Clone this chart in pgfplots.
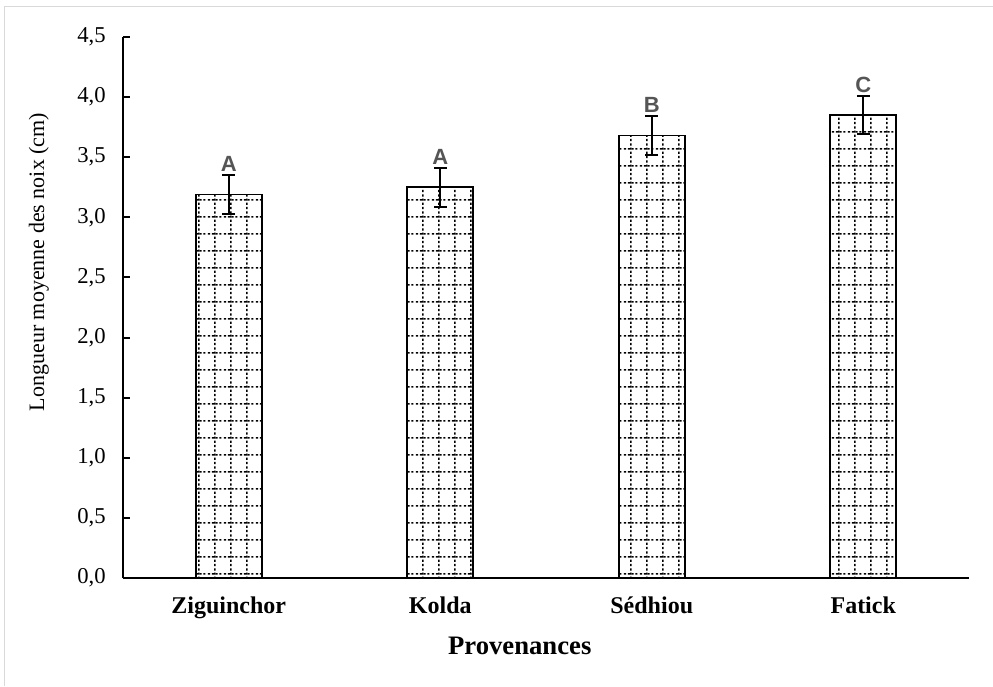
\documentclass[border=0pt]{standalone}
\usepackage{pgfplots}
\pgfplotsset{compat=1.18}
\usepackage{pgfplotstable}
\usepackage{fontspec}
\setmainfont{Liberation Serif}
\newfontfamily\lsans{Liberation Sans}
\usetikzlibrary{patterns}

\definecolor{framegray}{RGB}{217,217,217}
\definecolor{lettergray}{RGB}{85,85,85}

% dotted grid used to fill the bars
\pgfdeclarepatternformonly{dotgrid}{\pgfpointorigin}{\pgfpoint{12pt}{12.94pt}}{\pgfpoint{12pt}{12.94pt}}{%
  \pgfsetlinewidth{1.3pt}%
  \pgfsetdash{{1.6pt}{1.4pt}}{0pt}%
  \pgfpathmoveto{\pgfpoint{0pt}{7.1pt}}%
  \pgfpathlineto{\pgfpoint{12pt}{7.1pt}}%
  \pgfusepath{stroke}%
  \pgfsetdash{{1.7pt}{1.535pt}}{0pt}%
  \pgfpathmoveto{\pgfpoint{5.5pt}{0pt}}%
  \pgfpathlineto{\pgfpoint{5.5pt}{12.94pt}}%
  \pgfusepath{stroke}%
}

% mean nut length, standard error and group letter per origin
\pgfplotstableread{
x m e lab
0 3.19 0.16 A
1 3.25 0.16 A
2 3.68 0.16 B
3 3.85 0.16 C
}\noixdata

\begin{document}
\begin{tikzpicture}
\path[use as bounding box] (0,0) rectangle (744.75pt,514.5pt);
\draw[framegray, line width=0.75pt] (3pt,0) -- (3pt,509.25pt) -- (744.75pt,509.25pt);
\begin{axis}[
  at={(92.25pt,81pt)}, anchor=south west,
  scale only axis, width=634.5pt, height=405.75pt,
  xmin=-0.5, xmax=3.5, ymin=0, ymax=4.5,
  clip=false,
  axis lines*=left,
  axis line style={line width=1.5pt, black},
  xtick={0,1,2,3},
  xticklabels={Ziguinchor,Kolda,Sédhiou,Fatick},
  xtick style={draw=none},
  xticklabel style={anchor=base, yshift=-27pt, font=\bfseries\fontsize{18}{21}\selectfont},
  ytick={0,0.5,1,1.5,2,2.5,3,3.5,4,4.5},
  tick align=inside,
  major tick length=5pt,
  ytick style={line width=1.5pt, black},
  yticklabel style={/pgf/number format/.cd, fixed, fixed zerofill, precision=1, use comma, assume math mode=true,
    /tikz/.cd, xshift=-9.5pt, font=\fontsize{17}{20}\selectfont},
  xlabel={Provenances},
  xlabel style={at={(axis description cs:0.469,-0.142)}, anchor=base, font=\bfseries\fontsize{20}{24}\selectfont},
  ylabel={Longueur moyenne des noix (cm)},
  ylabel style={at={(axis description cs:-0.0993,0.584)}, anchor=center, font=\fontsize{16.5}{20}\selectfont},
]
\addplot[ybar, bar width=49.5pt, draw=black, line width=1.25pt, pattern=dotgrid, pattern color=black,
  error bars/.cd, y dir=both, y explicit,
  error mark=-,
  error bar style={line width=1.5pt, black},
  error mark options={rotate=90, line width=1.5pt, mark size=4.75pt, black}]
  table[x=x, y=m, y error=e] {\noixdata};
\addplot[draw=none, nodes near coords, point meta=explicit symbolic,
  nodes near coords style={anchor=south, inner sep=0pt, yshift=2.5pt,
    font=\lsans\bfseries\fontsize{16.5}{16.5}\selectfont, text=lettergray}]
  table[x=x, y expr=\thisrow{m}+\thisrow{e}, meta=lab] {\noixdata};
\end{axis}
\end{tikzpicture}
\end{document}
